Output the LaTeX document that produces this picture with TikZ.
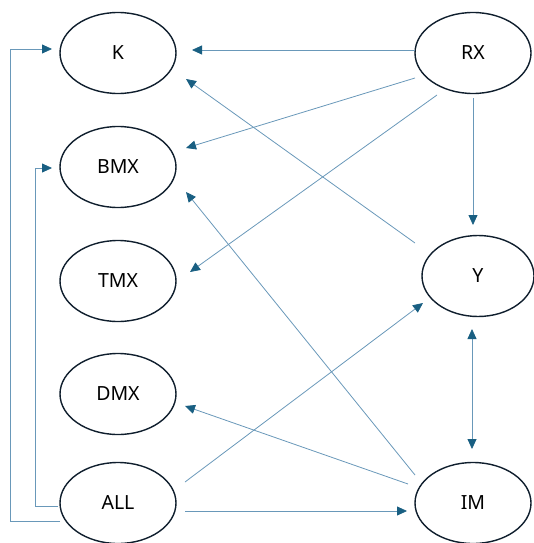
\documentclass[tikz,border=0pt]{standalone}
\usepackage{fontspec}
\setmainfont{Noto Sans}
\usetikzlibrary{shapes.geometric,arrows.meta}
\definecolor{linec}{RGB}{105,152,185}
\definecolor{tipc}{RGB}{25,95,130}
\definecolor{ellc}{RGB}{15,30,45}
\tikzset{
  var/.style={ellipse, draw=ellc, line width=1.4pt, minimum width=116pt, minimum height=81pt, inner sep=0pt, font=\fontsize{19.5}{22}\selectfont},
  conn/.style={draw=linec, line width=0.8pt, -{Triangle[length=10pt,width=9pt,color=tipc]}},
  conn2/.style={draw=linec, line width=0.8pt, {Triangle[length=10pt,width=9pt,color=tipc]}-{Triangle[length=10pt,width=9pt,color=tipc]}}
}
\begin{document}
\begin{tikzpicture}[x=1pt,y=-1pt]
\useasboundingbox (0,0) rectangle (534,543);
\node[var] (k) at (118,53) {K};
\node[var] (bmx) at (118,167) {BMX};
\node[var] (tmx) at (118,281) {TMX};
\node[var] (dmx) at (118,394) {DMX};
\node[var] (all) at (118,503) {ALL};
\node[var] (rx) at (473,53) {RX};
\node[var, minimum width=112pt] (y) at (478,276) {Y};
\node[var] (im) at (473,503) {IM};

\draw[conn] ([shift={(-58,-3)}]rx.center) -- ([shift={(74,-3)}]k.center);
\draw[conn] ([shift={(-58,25)}]rx.center) -- ([shift={(68,-19)}]bmx.center);
\draw[conn] ([shift={(-36,42)}]rx.center) -- ([shift={(72,-9)}]tmx.center);
\draw[conn] ([shift={(0,45)}]rx.center) -- ([shift={(-5,-51)}]y.center);
\draw[conn] ([shift={(-63,-33)}]y.center) -- ([shift={(68,26)}]k.center);
\draw[conn] ([shift={(-58,-28)}]im.center) -- ([shift={(68,25)}]bmx.center);
\draw[conn] ([shift={(-65,-19)}]im.center) -- ([shift={(67,12)}]dmx.center);
\draw[conn] ([shift={(67,-21)}]all.center) -- ([shift={(-55,27)}]y.center);
\draw[conn] ([shift={(67,8)}]all.center) -- ([shift={(-66,8)}]im.center);
\draw[conn2] ([shift={(-6,53)}]y.center) -- ([shift={(-1,-54)}]im.center);
\draw[conn] ([shift={(-58,18)}]all.center) -- ++(-50,0) |- ([shift={(-66,-4)}]k.center);
\draw[conn] ([shift={(-60,3)}]all.center) -- ++(-23,0) |- ([shift={(-66,1)}]bmx.center);
\end{tikzpicture}
\end{document}
